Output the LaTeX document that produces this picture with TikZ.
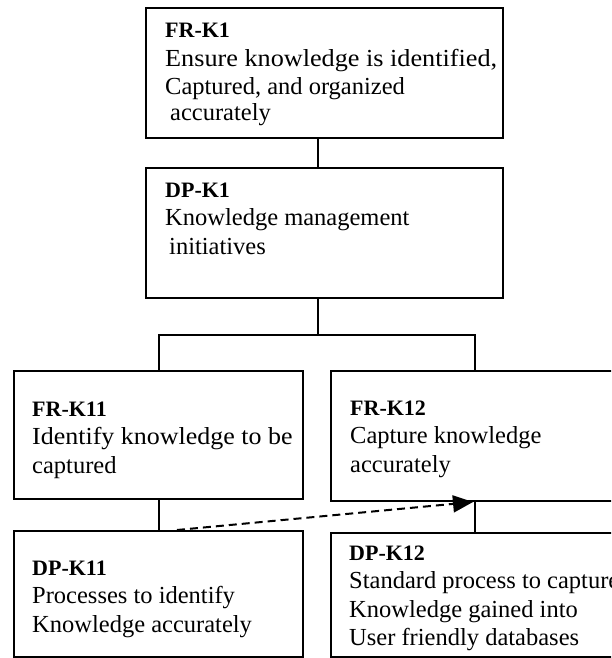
\documentclass[tikz,border=0pt]{standalone}
\usepackage{fontspec}
\setmainfont{Liberation Serif}
\usetikzlibrary{arrows.meta}
\newcommand{\head}[1]{{\fontsize{22}{28}\selectfont\bfseries #1}}
\newcommand{\widen}[2]{\scalebox{#1}[1]{#2}}
\begin{document}
\begin{tikzpicture}[x=1pt,y=-1pt,
  box/.style={draw=black, line width=2.2pt, inner sep=0pt, anchor=north west},
  link/.style={draw=black, line width=2pt},
  txt/.style={anchor=base west, inner sep=0pt, font=\fontsize{24.5}{28.5}\selectfont},
  flow/.style={draw=black, line width=2pt, dash pattern=on 8pt off 5pt,
    -{Triangle[length=20pt,width=17pt]}},
]
\useasboundingbox (0,0) rectangle (611,658);
\clip (0,0) rectangle (611,658);

% boxes
\node[box, minimum width=357pt, minimum height=130pt] (frk1)  at (145,7)   {};
\node[box, minimum width=357pt, minimum height=130pt] (dpk1)  at (145,167) {};
\node[box, minimum width=289pt, minimum height=128pt] (frk11) at (13,370)  {};
\node[box, minimum width=288pt, minimum height=130pt] (frk12) at (330,370) {};
\node[box, minimum width=289pt, minimum height=126pt] (dpk11) at (13,530)  {};
\node[box, minimum width=288pt, minimum height=124pt] (dpk12) at (330,532) {};

% texts
\node[txt] (tfrk1) at (165,38) {\begin{tabular}[t]{@{}l@{}}\head{FR-K1}\\
  \widen{1.07}{Ensure knowledge is identified,}\\ Captured, and organized\\[-3pt]
  \hspace{5pt}accurately\end{tabular}};
\node[txt] (tdpk1) at (165,197) {\begin{tabular}[t]{@{}l@{}}\head{DP-K1}\\
  Knowledge management\\ \hspace{4pt}initiatives\end{tabular}};
\node[txt] (tfrk11) at (32,416) {\begin{tabular}[t]{@{}l@{}}\head{FR-K11}\\
  \widen{1.06}{Identify knowledge to be}\\ captured\end{tabular}};
\node[txt] (tfrk12) at (350,415) {\begin{tabular}[t]{@{}l@{}}\head{FR-K12}\\
  Capture knowledge\\ accurately\end{tabular}};
\node[txt] (tdpk11) at (32,575) {\begin{tabular}[t]{@{}l@{}}\head{DP-K11}\\
  Processes to identify\\ Knowledge accurately\end{tabular}};
\node[txt] (tdpk12) at (349,560) {\begin{tabular}[t]{@{}l@{}}\head{DP-K12}\\
  Standard process to capture\\ Knowledge gained into\\
  User friendly databases\end{tabular}};

% connectors
\coordinate (bar) at (318,335);
\draw[link] (frk1.south -| bar) -- (dpk1.north -| bar);
\draw[link] (dpk1.south -| bar) -- (bar);
\draw[link] (frk11.north) |- (bar) -| (frk12.north);
\draw[link] (frk11.south) -- (dpk11.north);
\draw[link] (frk12.south) -- (dpk12.north);

% dashed dependency arrow
\coordinate (ds) at (177,530);
\coordinate (de) at (473,502);
\draw[flow] (ds) -- (de);
\end{tikzpicture}
\end{document}
